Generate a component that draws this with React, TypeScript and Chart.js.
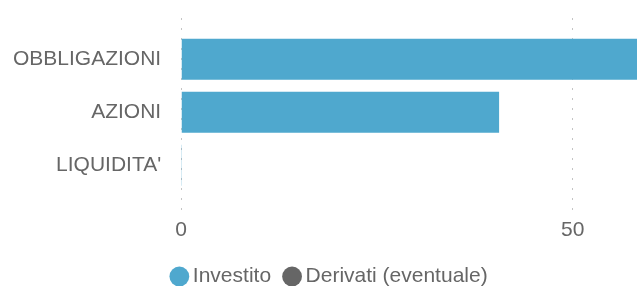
import React, { useEffect, useRef } from "react";
import { Chart, registerables } from "chart.js";

Chart.register(...registerables);

const categories = ["OBBLIGAZIONI", "AZIONI", "LIQUIDITA'"];
const investito = [59.3, 40.6, 0.1];
const derivati = [0, 0, 0];
const xTicks = [0, 50];
const seriesNames = ["Investito", "Derivati (eventuale)"];

export default function App() {
  const ref = useRef<HTMLCanvasElement>(null);
  useEffect(() => {
    document.documentElement.style.overflow = "hidden";
    if (!ref.current) return;
    Chart.defaults.font.family = "'Liberation Sans', Arial, sans-serif";
    Chart.defaults.font.size = 21;
    Chart.defaults.color = "#666666";
    const chart = new Chart(ref.current, {
      type: "bar",
      data: {
        datasets: [
          {
            label: seriesNames[0],
            data: investito.map((v, i) => ({ x: v, y: i })),
            backgroundColor: "#4fa8ce",
            borderWidth: 0,
            categoryPercentage: 0.86,
            barPercentage: 0.9,
          },
          {
            label: seriesNames[1],
            data: derivati.map((v, i) => ({ x: v, y: i })),
            backgroundColor: "#666666",
            borderWidth: 0,
            categoryPercentage: 0.86,
            barPercentage: 0.9,
          },
        ],
      },
      options: {
        indexAxis: "y",
        responsive: false,
        animation: false,
        layout: { padding: { top: 10, left: 5, right: 0, bottom: 0 } },
        scales: {
          x: {
            type: "linear",
            stacked: true,
            offset: false,
            min: 0,
            max: 60,
            afterBuildTicks: (scale: any) => {
              scale.ticks = xTicks.map((v) => ({ value: v }));
            },
            grid: {
              color: "#c4c4c4",
              lineWidth: 1,
              drawTicks: true,
              tickLength: 3,
              tickColor: "rgba(0,0,0,0)",
            },
            border: { display: false, dash: [2, 8] },
            ticks: { padding: 5, color: "#666666" },
          },
          y: {
            type: "linear",
            stacked: true,
            offset: false,
            reverse: true,
            min: -0.78,
            max: 2.84,
            afterBuildTicks: (scale: any) => {
              scale.ticks = categories.map((_, i) => ({ value: i }));
            },
            grid: { display: false, drawTicks: true, tickLength: 20 },
            border: { display: false },
            ticks: {
              padding: 0,
              color: "#666666",
              autoSkip: false,
              font: { lineHeight: 0.9 },
              callback: (v: any) => categories[v as number] ?? "",
            },
          },
        },
        plugins: {
          legend: {
            position: "bottom",
            labels: {
              usePointStyle: true,
              pointStyle: "circle",
              boxWidth: 6,
              boxHeight: 14,
              padding: 18,
              color: "#666666",
            },
          },
          tooltip: { enabled: false },
        },
      },
    });
    return () => chart.destroy();
  }, []);
  return (
    <canvas
      ref={ref}
      width={643}
      height={289}
      style={{ position: "fixed", left: 8, top: 8, width: 643, height: 289 }}
    />
  );
}
